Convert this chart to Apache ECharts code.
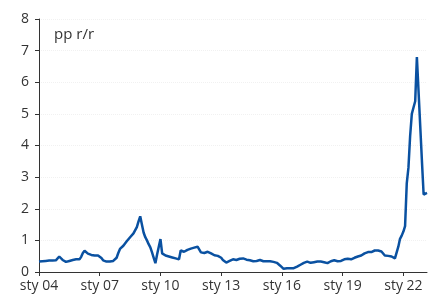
<!DOCTYPE html>
<html>
<head>
<meta charset="utf-8">
<script src="https://cdn.jsdelivr.net/npm/echarts@6/dist/echarts.min.js"></script>
<style>html,body{margin:0;padding:0;background:#fff}#c{width:435px;height:302px}</style>
</head>
<body>
<div id="c"></div>
<script>
const startYear = 2004;
const unitLabel = 'pp r/r';
const monthPrefix = 'sty';
const yTicks = [0, 1, 2, 3, 4, 5, 6, 7, 8];
const values = [
  // 2004
  0.33,0.33,0.34,0.34,0.35,0.35,0.36,0.36,0.36,0.37,0.37,0.40,
  // 2005
  0.49,0.44,0.38,0.32,0.32,0.33,0.35,0.36,0.38,0.40,0.40,0.40,
  // 2006
  0.40,0.48,0.60,0.67,0.63,0.58,0.56,0.54,0.53,0.52,0.52,0.52,
  // 2007
  0.50,0.44,0.37,0.34,0.33,0.33,0.33,0.34,0.35,0.37,0.45,0.60,
  // 2008
  0.73,0.78,0.83,0.90,0.97,1.03,1.10,1.16,1.22,1.26,1.42,1.60,
  // 2009
  1.76,1.50,1.25,1.10,1.00,0.88,0.78,0.62,0.45,0.28,0.55,0.80,
  // 2010
  1.04,0.59,0.55,0.52,0.50,0.49,0.48,0.46,0.45,0.43,0.42,0.40,
  // 2011
  0.68,0.64,0.64,0.67,0.70,0.72,0.74,0.76,0.77,0.78,0.80,0.80,
  // 2012
  0.62,0.59,0.60,0.62,0.64,0.61,0.59,0.56,0.53,0.51,0.51,0.50,
  // 2013
  0.45,0.38,0.33,0.30,0.29,0.35,0.40,0.40,0.39,0.38,0.40,0.42,
  // 2014
  0.43,0.43,0.41,0.39,0.38,0.37,0.35,0.34,0.33,0.35,0.37,0.38,
  // 2015
  0.36,0.34,0.33,0.34,0.35,0.34,0.33,0.32,0.30,0.29,0.28,0.20,
  // 2016
  0.14,0.10,0.11,0.12,0.13,0.12,0.13,0.12,0.14,0.17,0.20,0.23,
  // 2017
  0.26,0.29,0.32,0.33,0.31,0.29,0.29,0.31,0.32,0.33,0.34,0.33,
  // 2018
  0.33,0.31,0.30,0.28,0.31,0.34,0.38,0.37,0.36,0.34,0.33,0.35,
  // 2019
  0.37,0.40,0.43,0.42,0.41,0.40,0.43,0.45,0.47,0.49,0.51,0.52,
  // 2020
  0.54,0.59,0.64,0.63,0.61,0.63,0.66,0.68,0.68,0.68,0.68,0.65,
  // 2021
  0.60,0.52,0.51,0.51,0.51,0.49,0.46,0.43,0.48,0.80,1.05,1.15,
  // 2022
  1.28,1.45,2.80,3.30,4.30,5.00,5.20,5.40,6.80,5.70,4.60,3.50,
  // 2023
  2.45,2.40,2.50
];

const categories = values.map((_, i) => {
  const y = startYear + Math.floor(i / 12);
  const m = i % 12;
  return m === 0 ? monthPrefix + ' ' + String(y % 100).padStart(2, '0') : String(y) + '-' + (m + 1);
});

const showEvery3Years = (idx) => idx % 36 === 0;
const font = '"Open Sans", "Noto Sans", sans-serif';

const chart = echarts.init(document.getElementById('c'), null, { renderer: 'canvas' });
chart.setOption({
  animation: false,
  backgroundColor: '#fff',
  title: {
    text: unitLabel,
    left: 49, top: 22,
    textStyle: { fontFamily: font, fontSize: 15, fontWeight: 'normal', color: '#333' }
  },
  grid: { left: 39, right: 8, top: 19, bottom: 30, containLabel: false },
  xAxis: {
    type: 'category',
    data: categories,
    boundaryGap: false,
    axisLine: { lineStyle: { color: '#333', width: 1 } },
    axisTick: { show: true, interval: showEvery3Years, length: 4, lineStyle: { color: '#333' } },
    axisLabel: { interval: showEvery3Years, color: '#333', fontFamily: font, fontSize: 14, margin: 7 },
    splitLine: { show: false }
  },
  yAxis: {
    type: 'value',
    min: yTicks[0], max: yTicks[yTicks.length - 1], interval: 1,
    axisLine: { show: true, lineStyle: { color: '#333', width: 1 } },
    axisTick: { show: true, length: 4, lineStyle: { color: '#333' } },
    axisLabel: { color: '#333', fontFamily: font, fontSize: 14, margin: 10 },
    splitLine: { show: true, lineStyle: { color: '#f1f1f1', type: 'dotted', width: 1 } }
  },
  series: [{
    type: 'line',
    data: values,
    symbol: 'none',
    lineStyle: { color: '#0a51a1', width: 2.5 },
    z: 3
  }]
});
</script>
</body>
</html>
